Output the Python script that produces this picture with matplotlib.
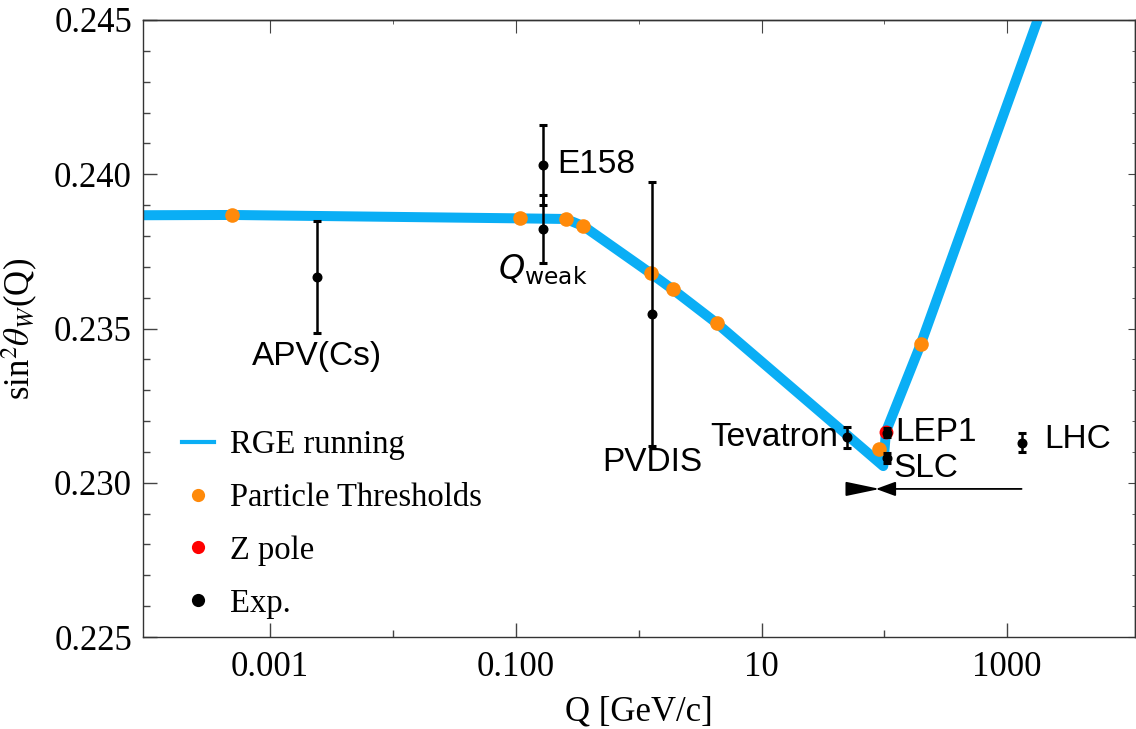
import matplotlib
matplotlib.use("Agg")
import matplotlib.pyplot as plt
from matplotlib.lines import Line2D
from matplotlib.ticker import FixedLocator, NullFormatter, FixedFormatter, MultipleLocator, FormatStrFormatter

plt.rcParams['font.family'] = ['Liberation Serif', 'DejaVu Serif']

# RGE running of sin^2(theta_W), piecewise in log Q
rge_q = [7.0e-5, 4.9e-4, 0.108, 0.255, 0.355, 1.25, 1.89, 4.32, 97.9, 103.0, 198.0, 1787.0, 3000.0]
rge_s2w = [0.23867, 0.23868, 0.23857, 0.23855, 0.23832, 0.23679, 0.23627, 0.23517,
           0.23054, 0.23166, 0.23450, 0.24505, 0.24754]

# particle thresholds along the curve
thr_q = [4.9e-4, 0.108, 0.255, 0.355, 1.25, 1.89, 4.32, 90.3, 198.0]
thr_s2w = [0.23868, 0.23857, 0.23855, 0.23832, 0.23679, 0.23627, 0.23517, 0.23108, 0.23450]

# Z pole
z_q = [103.0]
z_s2w = [0.23166]

# measurements
exp_names = ['APV(Cs)', 'E158', 'Qweak', 'PVDIS', 'Tevatron', 'LEP1', 'SLC', 'LHC']
exp_q = [2.4e-3, 0.166, 0.166, 1.29, 49.3, 105.5, 104.3, 1308.0]
exp_s2w = [0.23668, 0.24030, 0.23822, 0.23547, 0.23147, 0.23162, 0.23079, 0.23130]
exp_err = [0.00181, 0.00130, 0.00110, 0.00428, 0.00035, 0.00015, 0.00016, 0.00031]

# label offsets in points (dx, dy), alignment
label_text = {
    'APV(Cs)': 'APV(Cs)', 'E158': 'E158', 'Qweak': r'$Q_{\mathrm{weak}}$', 'PVDIS': 'PVDIS',
    'Tevatron': 'Tevatron', 'LEP1': 'LEP1', 'SLC': 'SLC', 'LHC': 'LHC',
}
label_pos = {
    'APV(Cs)': (0, -46, 'center', 'top'),
    'E158': (10, 0, 'left', 'center'),
    'Qweak': (0, -29, 'center', 'center'),
    'PVDIS': (0, -96, 'center', 'top'),
    'Tevatron': (-6, 0, 'right', 'center'),
    'LEP1': (6, 0, 'left', 'center'),
    'SLC': (5, -7, 'left', 'center'),
    'LHC': (16, 2, 'left', 'center'),
}

# running arrows toward the Z pole
arrow_y = 0.22980
arrow_from = [52.4, 1308.0]
arrow_to = [92.0, 85.3]

blue = '#0aaef5'
orange = '#ff8a0a'

fig = plt.figure(figsize=(11.36, 7.29), dpi=100)
ax = fig.add_axes([143 / 1136, 92 / 729, 992 / 1136, 617 / 729])

ax.plot(rge_q, rge_s2w, color=blue, lw=7.2, solid_joinstyle='round', zorder=2)
ax.plot(thr_q, thr_s2w, 'o', color=orange, ms=10.5, mec='none', zorder=3)
ax.plot(z_q, z_s2w, 'o', color='#ff0000', ms=10, mec='none', zorder=3)
ax.errorbar(exp_q, exp_s2w, yerr=exp_err, fmt='o', color='black', ms=6.2,
            elinewidth=1.8, capsize=3, capthick=2.2, zorder=4)

for name, q, s in zip(exp_names, exp_q, exp_s2w):
    dx, dy, ha, va = label_pos[name]
    ax.annotate(label_text[name], (q, s), xytext=(dx, dy), textcoords='offset points',
                ha=ha, va=va, fontsize=24, family=['Liberation Sans', 'DejaVu Sans'],
                math_fontfamily='dejavusans', zorder=5)

ax.annotate('', xy=(arrow_to[0], arrow_y), xytext=(arrow_from[0], arrow_y),
            arrowprops=dict(arrowstyle='-|>,head_length=1.05,head_width=0.22',
                            mutation_scale=20, lw=1.3, color='black', shrinkA=0, shrinkB=0))
ax.annotate('', xy=(arrow_to[1], arrow_y), xytext=(arrow_from[1], arrow_y),
            arrowprops=dict(arrowstyle='-|>,head_length=0.6,head_width=0.22',
                            mutation_scale=20, lw=1.3, color='black', shrinkA=0, shrinkB=0))

ax.set_xscale('log')
ax.set_xlim(10 ** -4.035, 10 ** 4.04)
ax.set_ylim(0.225, 0.245)

xmaj = [1e-3, 1e-1, 1e1, 1e3]
xmin = [1e-2, 1e0, 1e2]
ax.xaxis.set_major_locator(FixedLocator(xmaj))
ax.xaxis.set_major_formatter(FixedFormatter(['0.001', '0.100', '10', '1000']))
ax.xaxis.set_minor_locator(FixedLocator(xmin))
ax.xaxis.set_minor_formatter(NullFormatter())
ax.yaxis.set_major_locator(MultipleLocator(0.005))
ax.yaxis.set_major_formatter(FormatStrFormatter('%.3f'))
ax.yaxis.set_minor_locator(MultipleLocator(0.001))

ax.tick_params(which='both', direction='in', color='#444444', labelsize=25)
ax.tick_params(which='major', length=10, width=1.0, pad=8)
ax.tick_params(axis='x', which='major', pad=10)
ax.tick_params(which='minor', length=5, width=1.0)

# top and right frame ticks, shorter and unlabeled
top = ax.secondary_xaxis('top')
top.xaxis.set_major_locator(FixedLocator(xmaj))
top.xaxis.set_minor_locator(FixedLocator(xmin))
top.xaxis.set_major_formatter(NullFormatter())
top.xaxis.set_minor_formatter(NullFormatter())
top.tick_params(which='both', direction='in', color='#444444')
top.tick_params(which='major', length=9)
top.tick_params(which='minor', length=3)
right = ax.secondary_yaxis('right')
right.yaxis.set_major_locator(MultipleLocator(0.005))
right.yaxis.set_minor_locator(MultipleLocator(0.001))
right.yaxis.set_major_formatter(NullFormatter())
right.tick_params(which='both', direction='in', color='#444444')
right.tick_params(which='major', length=5)
right.tick_params(which='minor', length=2)

for sp in list(ax.spines.values()) + [top.spines['top'], right.spines['right']]:
    sp.set_color('#333333')
    sp.set_linewidth(1.0)

ax.set_xlabel('Q [GeV/c]', fontsize=25, labelpad=8)
ax.set_ylabel(r'sin$^2\theta_W$(Q)', fontsize=25, math_fontfamily='stix', labelpad=10)

handles = [
    Line2D([], [], color=blue, lw=3),
    Line2D([], [], ls='none', marker='o', color=orange, ms=9.5, mec='none'),
    Line2D([], [], ls='none', marker='o', color='#ff0000', ms=9.5, mec='none'),
    Line2D([], [], ls='none', marker='o', color='black', ms=9.5, mec='none'),
]
ax.legend(handles, ['RGE running', 'Particle Thresholds', 'Z pole', 'Exp.'],
          loc='upper left', bbox_to_anchor=(0.0393, 0.3355), frameon=False,
          fontsize=23.5, borderpad=0, borderaxespad=0, handlelength=0.98,
          handletextpad=0.5, labelspacing=0.68)

fig.savefig('out.png', dpi=100)
